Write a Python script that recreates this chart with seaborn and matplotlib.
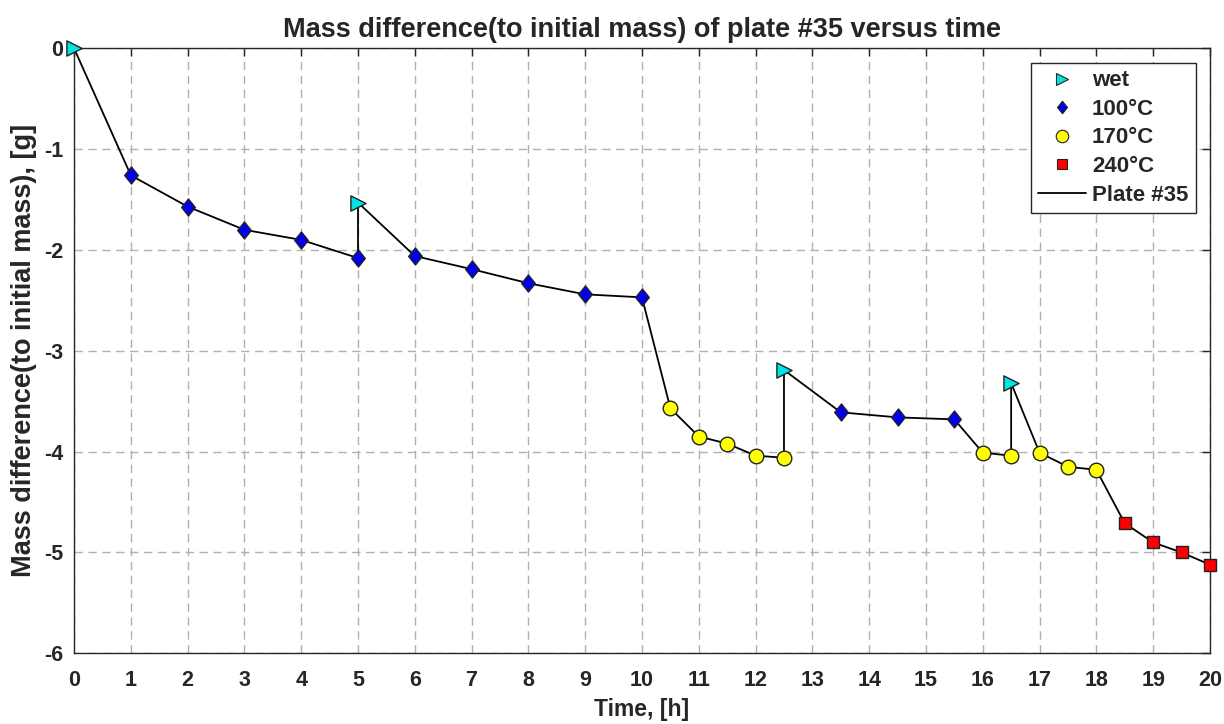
import matplotlib
matplotlib.use("Agg")
import matplotlib.pyplot as plt
import seaborn as sns
import pandas as pd
from matplotlib.lines import Line2D
from matplotlib.path import Path

# Data (in order of measurement / line path)
time_h = [0, 1, 2, 3, 4, 5, 5, 6, 7, 8, 9, 10, 10.5, 11, 11.5, 12, 12.5, 12.5,
          13.5, 14.5, 15.5, 16, 16.5, 16.5, 17, 17.5, 18, 18.5, 19, 19.5, 20]
mass_g = [0, -1.26, -1.57, -1.80, -1.90, -2.08, -1.53, -2.06, -2.19, -2.33, -2.44, -2.47,
          -3.57, -3.85, -3.92, -4.04, -4.06, -3.19,
          -3.61, -3.66, -3.68, -4.01, -4.04, -3.32, -4.01, -4.15, -4.18,
          -4.71, -4.90, -5.00, -5.12]
condition = ["wet", "100°C", "100°C", "100°C", "100°C", "100°C", "wet", "100°C", "100°C",
             "100°C", "100°C", "100°C", "170°C", "170°C", "170°C", "170°C", "170°C", "wet",
             "100°C", "100°C", "100°C", "170°C", "170°C", "wet", "170°C", "170°C", "170°C",
             "240°C", "240°C", "240°C", "240°C"]
categories = ["wet", "100°C", "170°C", "240°C"]
xticks = list(range(0, 21))
yticks = [0, -1, -2, -3, -4, -5, -6]

colors = {"wet": "#00E5E5", "100°C": "#0000EE", "170°C": "#FFFF00", "240°C": "#FF0000"}
diamond = Path([(0, 1), (0.8, 0), (0, -1), (-0.8, 0), (0, 1)],
               [Path.MOVETO, Path.LINETO, Path.LINETO, Path.LINETO, Path.CLOSEPOLY])
markers = {"wet": ">", "100°C": diamond, "170°C": "o", "240°C": "s"}
sizes = {"wet": 120, "100°C": 150, "170°C": 110, "240°C": 75}

df = pd.DataFrame({"t": time_h, "m": mass_g, "c": condition})

sns.set_style("white")
plt.rcParams["font.family"] = ["Liberation Sans", "DejaVu Sans"]
plt.rcParams["font.weight"] = "bold"

fig = plt.figure(figsize=(12.24, 7.24), dpi=100)
ax = fig.add_axes([0.0605, 0.0976, 0.928, 0.8357])

sns.lineplot(data=df, x="t", y="m", sort=False, estimator=None, color="black",
             linewidth=1.3, ax=ax, zorder=2, legend=False)
for cat in categories:
    sub = df[df["c"] == cat]
    sns.scatterplot(data=sub, x="t", y="m", marker=markers[cat], color=colors[cat],
                    s=sizes[cat], edgecolor="#222222", linewidth=1.0, ax=ax,
                    zorder=3, legend=False, clip_on=False)

ax.set_xlim(0, 20)
ax.set_ylim(-6, 0)
ax.set_xticks(xticks)
ax.set_yticks(yticks)
tc = "#262626"
ax.set_xticklabels([str(v) for v in xticks], fontsize=15.5, fontweight="bold", color=tc)
ax.set_yticklabels([str(v) for v in yticks], fontsize=15.5, fontweight="bold", color=tc)
ax.tick_params(direction="in", length=6, width=1, color=tc, top=True, right=True)
ax.tick_params(axis="x", pad=12)
ax.tick_params(axis="y", pad=8)
ax.grid(True, linestyle=(0, (6, 4)), color="#B0B0B0", linewidth=1.0)
for sp in ax.spines.values():
    sp.set_color(tc)
    sp.set_linewidth(1.0)
ax.set_axisbelow(True)

ax.set_title("Mass difference(to initial mass) of plate #35 versus time",
             fontsize=19.5, fontweight="bold", pad=8)
ax.set_xlabel("Time, [h]", fontsize=16.5, fontweight="bold", color=tc, labelpad=5)
ax.set_ylabel("Mass difference(to initial mass), [g]", fontsize=19.5, fontweight="bold",
              color=tc, labelpad=5)

handles = [Line2D([], [], linestyle="none", marker=markers[c], markerfacecolor=colors[c],
                  markeredgecolor="#222222", markersize=9 if c != "240°C" else 7,
                  markeredgewidth=0.8) for c in categories]
handles.append(Line2D([], [], color="black", linewidth=1.3))
labels = categories + ["Plate #35"]
leg = ax.legend(handles, labels, loc="upper right", prop={"weight": "bold", "size": 16},
                frameon=True, fancybox=False, edgecolor="#262626", framealpha=1,
                handlelength=2.15, handletextpad=0.25, borderpad=0.35, labelspacing=0.34,
                borderaxespad=0, bbox_to_anchor=(0.9877, 0.9765))
leg.get_frame().set_linewidth(1.0)

fig.savefig("out.png", dpi=100)
